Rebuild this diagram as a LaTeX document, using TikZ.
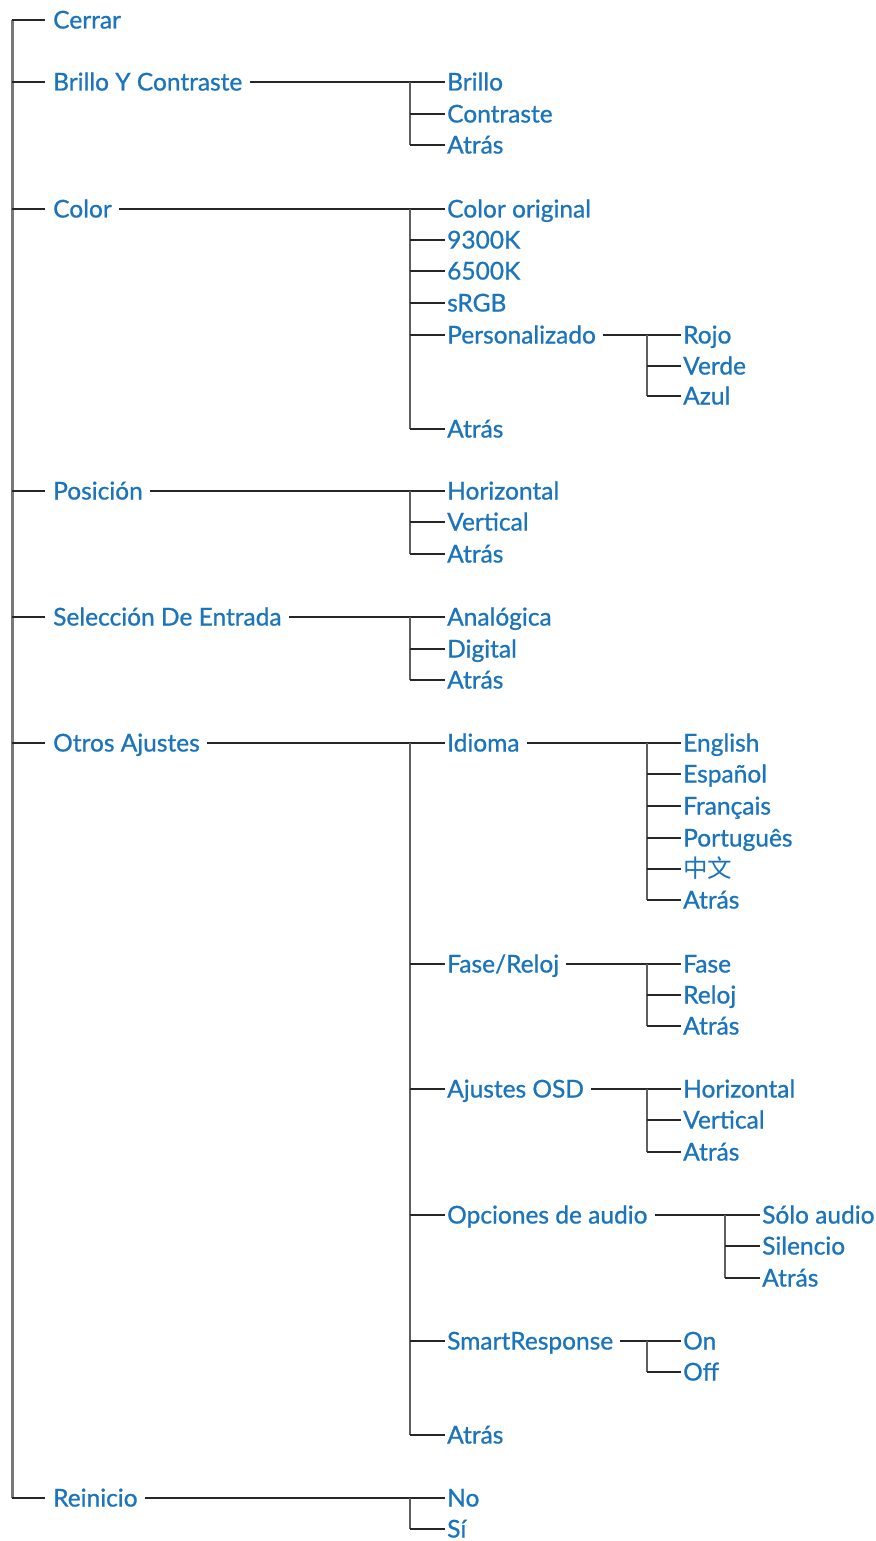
\documentclass[tikz,border=0pt]{standalone}
\usepackage{fontspec}
\setmainfont{Lato}[BoldFont=Lato,BoldFeatures={FakeBold=0.9}]
\newfontfamily\cjk{Noto Sans CJK SC}
\definecolor{txtblue}{RGB}{28,117,188}
\definecolor{vgray}{RGB}{95,95,95}
\definecolor{tgray}{RGB}{120,120,120}
\begin{document}
\begin{tikzpicture}[x=1pt,y=-1pt,
  lbl/.style={anchor=west,inner sep=0pt,text=txtblue,font=\fontsize{24.5}{26}\selectfont\bfseries,text height=17pt,text depth=0pt},
  hl/.style={draw=black!85,line width=1.5pt},
  vl/.style={draw=vgray,line width=2pt},
  trunkline/.style={draw=tgray,line width=3pt}]
\useasboundingbox (0,0) rectangle (875,1541);
\coordinate (T) at (12,0);
\coordinate (vA) at (410,0);
\coordinate (vB) at (647,0);
\coordinate (vC) at (725,0);
% level 1
\node[lbl] (cerrar) at (53,20) {Cerrar};
\node[lbl] (brillo) at (53,82) {Brillo Y Contraste};
\node[lbl] (color) at (53,209) {Color};
\node[lbl] (posicion) at (53,491) {Posición};
\node[lbl] (seleccion) at (53,617) {Selección De Entrada};
\node[lbl] (otros) at (53,743) {Otros Ajustes};
\node[lbl] (reinicio) at (53,1498) {Reinicio};
% Brillo children
\node[lbl] (b1) at (447,82) {Brillo};
\node[lbl] (b2) at (447,114) {Contraste};
\node[lbl] (b3) at (447,145) {Atrás};
% Color children
\node[lbl] (c1) at (447,209) {Color original};
\node[lbl] (c2) at (447,240) {9300K};
\node[lbl] (c3) at (447,271) {6500K};
\node[lbl] (c4) at (447,303) {sRGB};
\node[lbl] (c5) at (447,335) {Personalizado};
\node[lbl] (c6) at (447,429) {Atrás};
\node[lbl] (p1) at (683,335) {Rojo};
\node[lbl] (p2) at (683,366) {Verde};
\node[lbl] (p3) at (683,396) {Azul};
% Posicion
\node[lbl] (po1) at (447,491) {Horizontal};
\node[lbl] (po2) at (447,522) {Vertical};
\node[lbl] (po3) at (447,554) {Atrás};
% Seleccion
\node[lbl] (s1) at (447,617) {Analógica};
\node[lbl] (s2) at (447,649) {Digital};
\node[lbl] (s3) at (447,680) {Atrás};
% Otros
\node[lbl] (o1) at (447,743) {Idioma};
\node[lbl] (o2) at (447,964) {Fase/Reloj};
\node[lbl] (o3) at (447,1089) {Ajustes OSD};
\node[lbl] (o4) at (447,1215) {Opciones de audio};
\node[lbl] (o5) at (447,1341) {SmartResponse};
\node[lbl] (o6) at (447,1435) {Atrás};
\node[lbl] (i1) at (683,743) {English};
\node[lbl] (i2) at (683,774) {Español};
\node[lbl] (i3) at (683,806) {Français};
\node[lbl] (i4) at (683,838) {Português};
\node[lbl] (i5) at (683,869) {\cjk\mdseries 中文};
\node[lbl] (i6) at (683,900) {Atrás};
\node[lbl] (f1) at (683,964) {Fase};
\node[lbl] (f2) at (683,995) {Reloj};
\node[lbl] (f3) at (683,1026) {Atrás};
\node[lbl] (a1) at (683,1089) {Horizontal};
\node[lbl] (a2) at (683,1120) {Vertical};
\node[lbl] (a3) at (683,1152) {Atrás};
\node[lbl] (u1) at (762,1215) {Sólo audio};
\node[lbl] (u2) at (762,1246) {Silencio};
\node[lbl] (u3) at (762,1278) {Atrás};
\node[lbl] (r1) at (683,1341) {On};
\node[lbl] (r2) at (683,1372) {Off};
% Reinicio
\node[lbl] (n1) at (447,1498) {No};
\node[lbl] (n2) at (447,1529) {Sí};
% trunk
\draw[trunkline] (cerrar.west -| T) -- (reinicio.west -| T);
\foreach \n in {cerrar,brillo,color,posicion,seleccion,otros,reinicio}
  \draw[hl] (\n.west -| T) -- ([xshift=-8pt]\n.west);
% branches
\foreach \p/\f/\l/\v/\rest in {
  brillo/b1/b3/vA/{b2,b3},
  color/c1/c6/vA/{c2,c3,c4,c5,c6},
  c5/p1/p3/vB/{p2,p3},
  posicion/po1/po3/vA/{po2,po3},
  seleccion/s1/s3/vA/{s2,s3},
  otros/o1/o6/vA/{o2,o3,o4,o5,o6},
  o1/i1/i6/vB/{i2,i3,i4,i5,i6},
  o2/f1/f3/vB/{f2,f3},
  o3/a1/a3/vB/{a2,a3},
  o4/u1/u3/vC/{u2,u3},
  o5/r1/r2/vB/{r2},
  reinicio/n1/n2/vA/{n2}}{
  \draw[hl] ([xshift=7pt]\p.east) -- ([xshift=-2pt]\f.west);
  \draw[vl] (\f.west -| \v) -- (\l.west -| \v);
  \foreach \c in \rest
    \draw[hl] (\c.west -| \v) -- ([xshift=-2pt]\c.west);
}
\end{tikzpicture}
\end{document}
